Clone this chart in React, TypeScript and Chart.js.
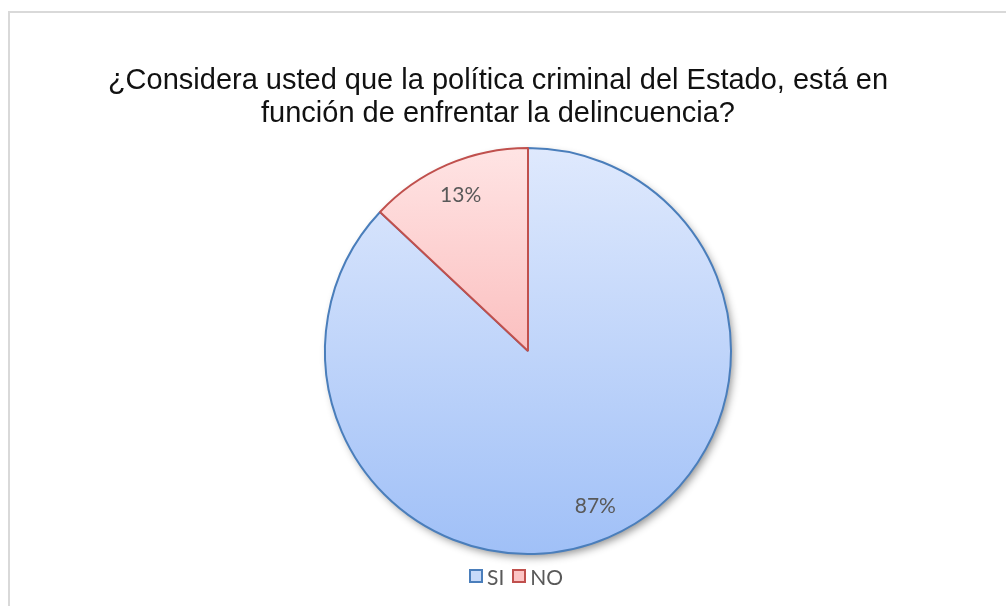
import React, { useEffect, useRef } from "react";
import { Chart, registerables } from "chart.js";

Chart.register(...registerables);

const TITLE_LINES = [
  "¿Considera usted que la política criminal del Estado, está en",
  "función de enfrentar la delincuencia?",
];
const CATEGORIES = ["SI", "NO"];
const VALUES = [87, 13];
const BORDER_COLORS = ["#4a7ebb", "#c0504d"];
const GRADIENT_TOP = ["#dfe9fd", "#ffe4e4"];
const GRADIENT_BOTTOM = ["#a0c0f7", "#f79b9b"];
const LEGEND_FILL = ["#c7daf9", "#fcc4c4"];

const PIE_RADIUS = 203;

const shadowPlugin = {
  id: "pieShadow",
  beforeDatasetsDraw(chart: any) {
    const meta = chart.getDatasetMeta(0);
    const arc = meta.data[0];
    if (!arc) return;
    const { x, y, outerRadius } = arc.getProps(["x", "y", "outerRadius"], true);
    const ctx = chart.ctx;
    ctx.save();
    ctx.shadowColor = "rgba(0,0,0,0.45)";
    ctx.shadowBlur = 9;
    ctx.shadowOffsetX = 3;
    ctx.shadowOffsetY = 4;
    ctx.beginPath();
    ctx.arc(x, y, outerRadius - 1, 0, Math.PI * 2);
    ctx.fillStyle = "#b0c8f0";
    ctx.fill();
    ctx.restore();
  },
};

const labelPlugin = {
  id: "pieLabels",
  afterDatasetsDraw(chart: any) {
    const meta = chart.getDatasetMeta(0);
    const data = chart.data.datasets[0].data as number[];
    const total = data.reduce((a, b) => a + b, 0);
    const ctx = chart.ctx;
    ctx.save();
    ctx.font = '21px Lato, "Open Sans", sans-serif';
    ctx.fillStyle = "#595959";
    ctx.textAlign = "center";
    ctx.textBaseline = "middle";
    meta.data.forEach((arc: any, i: number) => {
      const { x, y, startAngle, endAngle, outerRadius } = arc.getProps(
        ["x", "y", "startAngle", "endAngle", "outerRadius"],
        true
      );
      const mid = (startAngle + endAngle) / 2;
      const r = outerRadius * 0.835;
      const pct = Math.round((data[i] / total) * 100) + "%";
      ctx.fillText(pct, x + Math.cos(mid) * r, y + Math.sin(mid) * r);
    });
    ctx.restore();
  },
};

export default function App() {
  const canvasRef = useRef<HTMLCanvasElement | null>(null);

  useEffect(() => {
    if (!canvasRef.current) return;
    const makeGradient = (c: any) => {
      const chart = c.chart;
      const area = chart.chartArea;
      const i = c.dataIndex;
      if (!area) return GRADIENT_TOP[i];
      const cy = (area.top + area.bottom) / 2;
      const g = chart.ctx.createLinearGradient(0, cy - PIE_RADIUS, 0, cy + PIE_RADIUS);
      g.addColorStop(0, GRADIENT_TOP[i]);
      g.addColorStop(1, GRADIENT_BOTTOM[i]);
      return g;
    };
    const chart = new Chart(canvasRef.current, {
      type: "pie",
      data: {
        labels: CATEGORIES,
        datasets: [
          {
            data: VALUES,
            backgroundColor: makeGradient as any,
            borderColor: BORDER_COLORS,
            borderWidth: 2,
            hoverOffset: 0,
          },
        ],
      },
      options: {
        responsive: false,
        animation: false,
        radius: PIE_RADIUS,
        layout: { padding: { left: 50, right: 0, top: 96, bottom: 0 } },
        plugins: {
          legend: { display: false },
          title: { display: false },
          tooltip: { enabled: false },
        },
      } as any,
      plugins: [shadowPlugin, labelPlugin],
    });
    return () => chart.destroy();
  }, []);

  return (
    <div
      style={{
        position: "fixed",
        left: 0,
        top: 0,
        width: 1006,
        height: 606,
        overflow: "hidden",
        background: "#ffffff",
      }}
    >
      <div
        style={{
          position: "absolute",
          left: 8,
          top: 11,
          width: 1100,
          height: 700,
          border: "2px solid #d9d9d9",
          boxSizing: "border-box",
        }}
      />
      <canvas
        ref={canvasRef}
        width={1006}
        height={606}
        style={{ position: "absolute", left: 0, top: 0, width: 1006, height: 606 }}
      />
      <div
        style={{
          position: "absolute",
          left: 0,
          top: 63,
          width: 996,
          textAlign: "center",
          fontFamily: '"Liberation Sans", Arial, sans-serif',
          fontSize: 29,
          lineHeight: "33px",
          color: "#111111",
        }}
      >
        {TITLE_LINES.map((t, i) => (
          <div key={i}>{t}</div>
        ))}
      </div>
      <div
        style={{
          position: "absolute",
          left: 469,
          top: 563,
          height: 26,
          display: "flex",
          alignItems: "center",
          fontFamily: 'Lato, "Open Sans", sans-serif',
          fontSize: 21,
          color: "#595959",
        }}
      >
        {CATEGORIES.map((c, i) => (
          <div key={c} style={{ display: "flex", alignItems: "center", marginRight: 8 }}>
            <span
              style={{
                display: "inline-block",
                width: 14,
                height: 14,
                boxSizing: "border-box",
                border: `2px solid ${BORDER_COLORS[i]}`,
                background: LEGEND_FILL[i],
                marginRight: 4,
              }}
            />
            <span>{c}</span>
          </div>
        ))}
      </div>
    </div>
  );
}
